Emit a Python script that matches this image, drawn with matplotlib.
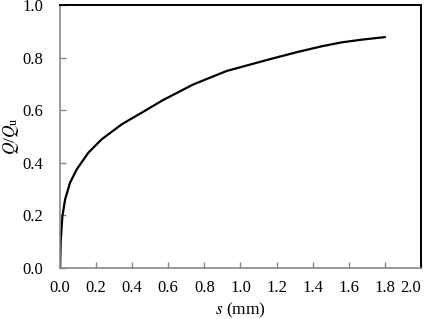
import matplotlib
matplotlib.use('Agg')
import matplotlib.pyplot as plt

# load-settlement curve
s_mm = [0.0, 0.004, 0.013, 0.028, 0.055, 0.092, 0.157, 0.231, 0.342, 0.452,
        0.57, 0.739, 0.923, 1.163, 1.32, 1.45, 1.56, 1.68, 1.80]
q_ratio = [0.0, 0.107, 0.196, 0.26, 0.323, 0.374, 0.438, 0.489, 0.546, 0.59,
           0.638, 0.698, 0.749, 0.794, 0.822, 0.843, 0.858, 0.869, 0.878]

x_ticks = [0.0, 0.2, 0.4, 0.6, 0.8, 1.0, 1.2, 1.4, 1.6, 1.8, 2.0]
y_ticks = [0.0, 0.2, 0.4, 0.6, 0.8, 1.0]

plt.rcParams['font.family'] = ['Liberation Serif', 'DejaVu Serif']
plt.rcParams['mathtext.fontset'] = 'stix'

fig = plt.figure(figsize=(4.29, 3.19), dpi=100)
ax = fig.add_axes([0.14, 0.161, 0.841, 0.823])

ax.plot(s_mm, q_ratio, color='black', lw=1.6)

ax.set_xlim(0, 2.0)
ax.set_ylim(0, 1.0)
ax.set_xticks(x_ticks)
ax.set_yticks(y_ticks)
ax.set_xticklabels([f'{v:.1f}' for v in x_ticks], fontsize=12)
ax.set_yticklabels([f'{v:.1f}' for v in y_ticks], fontsize=12)
ax.tick_params(direction='in', length=4, width=1, color='#888888')
ax.tick_params(axis='x', pad=9)
ax.tick_params(axis='y', pad=12)
# keep the last x label inside the figure, as in the reference
ax.get_xticklabels()[-1].set_horizontalalignment('right')

for side in ('left', 'bottom'):
    ax.spines[side].set_color('#888888')
    ax.spines[side].set_linewidth(1.2)
for side in ('top', 'right'):
    ax.spines[side].set_color('black')
    ax.spines[side].set_linewidth(1.4)

ax.set_xlabel('$s$ (mm)', fontsize=12.5, labelpad=3)
ax.set_ylabel('$Q$/$Q_{\\mathrm{u}}$', fontsize=12.5, labelpad=1)

fig.savefig('out.png', dpi=100)
